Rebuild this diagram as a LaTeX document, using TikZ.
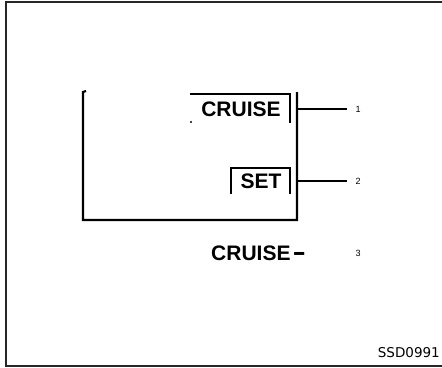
\documentclass[tikz,border=0pt]{standalone}
\usepackage{fontspec}
\setmainfont{Liberation Sans}
\newfontfamily\codefont{DejaVu Sans}
\begin{document}
\begin{tikzpicture}[x=1pt,y=-1pt,
  lbl/.style={inner sep=0pt,font=\fontsize{21}{21}\selectfont\bfseries},
  pin/.style={inner sep=0pt,font=\fontsize{9}{9}\selectfont},
  thick line/.style={line width=2.2pt,line cap=butt},
  wire/.style={line width=1.4pt}]
\useasboundingbox (0,0) rectangle (442,367);
% outer frame
\draw[line width=2.2pt,draw=black!85] (448,2) -- (6,2) -- (6,366) -- (448,366);
% box outline (open at top-left)
\draw[thick line] (86,91) -- (83,92) -- (83,220) -- (297,220) -- (297,92);
% CRUISE switch
\node[lbl] (cruise) at (241,109) {CRUISE};
\draw[thick line] (190,94) -- (290,94) -- (290,123);
\fill (191,122) circle (1.2pt);
% SET switch
\node[lbl] (set) at (261,181) {SET};
\draw[thick line] (231,194) -- (231,168) -- (290,168) -- (290,194);
% CRUISE- label
\node[lbl,anchor=west] (cruisem) at (211,253) {CRUISE\kern2pt\scalebox{1.9}[1.2]{-}};
% pins
\node[pin] (p1) at (358,109) {1};
\node[pin] (p2) at (358,181) {2};
\node[pin] (p3) at (358,253) {3};
\coordinate (s1) at (297,109);
\coordinate (s2) at (297,181);
\draw[line width=2.8pt] (s1) -- ++(13,0);
\draw[line width=2.8pt] (s2) -- ++(13,0);
\draw[wire] (s1) -- ([xshift=-11pt]p1.center);
\draw[wire] (s2) -- ([xshift=-11pt]p2.center);
% code
\node[inner sep=0pt,anchor=east,font=\codefont\fontsize{13.5}{13.5}\selectfont] (code) at (440,353) {SSD0991};
\end{tikzpicture}
\end{document}
